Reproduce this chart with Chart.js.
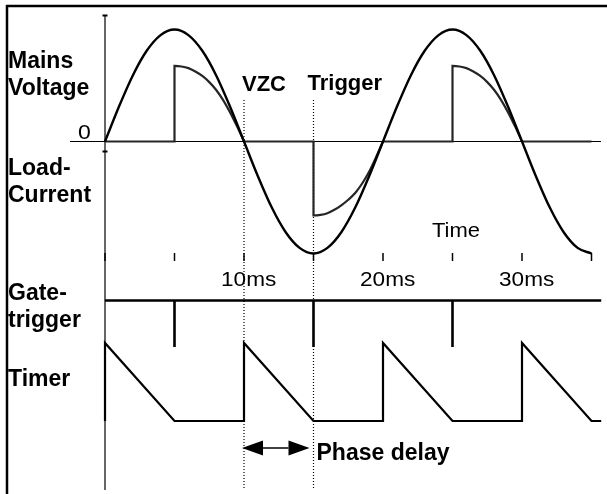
<!DOCTYPE html>
<html>
<head>
<meta charset="utf-8">
<title>Phase control timing</title>
<script src="https://cdn.jsdelivr.net/npm/chart.js@4.4.1/dist/chart.umd.min.js"></script>
<style>
  html, body { margin: 0; padding: 0; background: #fff; }
  #chart { display: block; }
</style>
</head>
<body>
<canvas id="chart" width="607" height="494"></canvas>
<script>
// --- data (time in ms, signals normalised) ---
const sineTimes = [0, 1, 2, 3, 4, 5, 6, 7, 8, 9, 10, 11, 12, 13, 14, 15, 16, 17,
                   18, 19, 20, 21, 22, 23, 24, 25, 26, 27, 28, 29, 30, 31, 32, 33, 34, 35];
const mainsVoltage = [0, 0.31, 0.59, 0.81, 0.95, 1, 0.95, 0.81, 0.59, 0.31,
                      0, -0.31, -0.59, -0.81, -0.95, -1, -0.95, -0.81, -0.59, -0.31,
                      0, 0.31, 0.59, 0.81, 0.95, 1, 0.95, 0.81, 0.59, 0.31,
                      0, -0.31, -0.59, -0.81, -0.95, -1];

// null = break between segments
const currentTimes = [0, 5, 5, 5.5, 6, 6.5, 7, 7.5, 8, 8.5, 9, 9.5, 10, 10,
                      10, 15, 15, 15.5, 16, 16.5, 17, 17.5, 18, 18.5, 19, 19.5, 20, 20,
                      20, 25, 25, 25.5, 26, 26.5, 27, 27.5, 28, 28.5, 29, 29.5, 30, 30,
                      30, 35];
const loadCurrent = [0, 0, 0.675, 0.67, 0.655, 0.625, 0.585, 0.53, 0.46, 0.37, 0.26, 0.135, 0, null,
                     0, 0, -0.66, -0.655, -0.64, -0.61, -0.57, -0.52, -0.46, -0.375, -0.27, -0.14, 0, null,
                     0, 0, 0.675, 0.67, 0.655, 0.625, 0.585, 0.53, 0.46, 0.37, 0.26, 0.135, 0, null,
                     0, 0];

const gateTimes = [0, 5, 5, 5, 15, 15, 15, 25, 25, 25, 35.7];
const gateTrigger = [0, 0, -1, 0, 0, -1, 0, 0, -1, 0, 0];

const timerTimes = [0, 0, 5, 10, 10, 15, 20, 20, 25, 30, 30, 35, 35.7];
const timerRamp = [0, 1, 0, 0, 1, 0, 0, 1, 0, 0, 1, 0, 0];

const tickTimes = [0, 5, 10, 15, 20, 25, 30, 35];
const labelTimes = [10, 20, 30];
const tickLabels = ['10ms', '20ms', '30ms'];
const markerTimes = [10, 15];
const markerLabels = ['VZC', 'Trigger'];

const toPoints = (xs, ys) => xs.map((t, i) => ({ x: t, y: ys[i] }));

const BOLD = 'bold 23px "Liberation Sans", Arial, sans-serif';
const BOLD_S = 'bold 22px "Liberation Sans", Arial, sans-serif';
const REG = '20px "Liberation Sans", Arial, sans-serif';

function drawText(ctx, str, x, y, font, sx) {
    ctx.save();
    ctx.font = font;
    ctx.fillStyle = '#000';
    ctx.textBaseline = 'alphabetic';
    ctx.translate(x, y);
    ctx.scale(sx || 1, 1);
    ctx.fillText(str, 0, 0);
    ctx.restore();
}

function seg(ctx, x1, y1, x2, y2) {
    ctx.beginPath();
    ctx.moveTo(x1, y1);
    ctx.lineTo(x2, y2);
    ctx.stroke();
}

const diagramDecor = {
    id: 'diagramDecor',
    beforeDatasetsDraw(chart) {
        const { ctx, scales: { x, yV } } = chart;
        const x0 = x.getPixelForValue(0);
        const y0 = yV.getPixelForValue(0);
        ctx.save();
        ctx.strokeStyle = '#000';

        // frame, top and left only
        ctx.lineWidth = 2.5;
        seg(ctx, 6, 6, 607, 6);
        seg(ctx, 7, 5, 7, 494);

        // vertical axis + small marks
        ctx.lineWidth = 1.2;
        seg(ctx, x0, 15, x0, 490);
        ctx.lineWidth = 2;
        seg(ctx, x0 - 2.5, 15.5, x0 + 2.5, 15.5);
        seg(ctx, x0 - 2.5, 151.5, x0 + 2.5, 151.5);

        // zero line
        ctx.lineWidth = 1.2;
        seg(ctx, 70, y0, 601, y0);

        // time ticks
        ctx.lineWidth = 1.5;
        tickTimes.forEach(t => {
            const px = x.getPixelForValue(t);
            seg(ctx, px, 253, px, 261);
        });

        // dotted markers
        ctx.lineWidth = 1.2;
        ctx.setLineDash([1, 2]);
        markerTimes.forEach(t => {
            const px = x.getPixelForValue(t);
            seg(ctx, px, 100, px, 490);
        });
        ctx.restore();
    },
    afterDatasetsDraw(chart) {
        const { ctx, scales: { x } } = chart;
        ctx.save();

        // left side labels
        drawText(ctx, 'Mains', 8, 68, BOLD);
        drawText(ctx, 'Voltage', 8, 95, BOLD);
        drawText(ctx, '0', 78, 139, REG, 1.15);
        drawText(ctx, 'Load-', 8, 175, BOLD);
        drawText(ctx, 'Current', 8, 202, BOLD);
        drawText(ctx, 'Gate-', 8, 300, BOLD);
        drawText(ctx, 'trigger', 8, 327, BOLD);
        drawText(ctx, 'Timer', 8, 386, BOLD);

        // markers
        drawText(ctx, markerLabels[0], x.getPixelForValue(markerTimes[0]) - 2, 91, BOLD_S);
        drawText(ctx, markerLabels[1], x.getPixelForValue(markerTimes[1]) - 6, 90, BOLD_S);

        // time axis labels
        drawText(ctx, 'Time', 432, 237, REG, 1.1);
        tickLabels.forEach((lab, i) => {
            const px = x.getPixelForValue(labelTimes[i]);
            drawText(ctx, lab, px - 23, 286, REG, 1.13);
        });

        // phase delay arrow
        const ax1 = x.getPixelForValue(markerTimes[0]) - 2;
        const ax2 = x.getPixelForValue(markerTimes[1]) - 4;
        const ay = 448;
        const head = 21, half = 7.5;
        ctx.fillStyle = '#000';
        ctx.strokeStyle = '#000';
        ctx.lineWidth = 1.5;
        seg(ctx, ax1 + head, ay, ax2 - head, ay);
        ctx.beginPath();
        ctx.moveTo(ax1, ay);
        ctx.lineTo(ax1 + head, ay - half);
        ctx.lineTo(ax1 + head, ay + half);
        ctx.closePath();
        ctx.fill();
        ctx.beginPath();
        ctx.moveTo(ax2, ay);
        ctx.lineTo(ax2 - head, ay - half);
        ctx.lineTo(ax2 - head, ay + half);
        ctx.closePath();
        ctx.fill();
        drawText(ctx, 'Phase delay', ax2 + 7, 460, BOLD);

        ctx.restore();
    }
};

const ctx = document.getElementById('chart').getContext('2d');
new Chart(ctx, {
    type: 'line',
    data: {
        datasets: [
            {
                label: 'Mains voltage',
                data: toPoints(sineTimes, mainsVoltage),
                yAxisID: 'yV',
                borderColor: '#000',
                borderWidth: 2.4,
                pointRadius: 0,
                cubicInterpolationMode: 'monotone'
            },
            {
                label: 'Load current',
                data: toPoints(currentTimes, loadCurrent),
                yAxisID: 'yV',
                borderColor: '#262626',
                borderWidth: 2.2,
                pointRadius: 0,
                spanGaps: false,
                cubicInterpolationMode: 'monotone'
            },
            {
                label: 'Gate trigger',
                data: toPoints(gateTimes, gateTrigger),
                yAxisID: 'yG',
                borderColor: '#000',
                borderWidth: 2.6,
                pointRadius: 0,
                tension: 0
            },
            {
                label: 'Timer',
                data: toPoints(timerTimes, timerRamp),
                yAxisID: 'yT',
                borderColor: '#000',
                borderWidth: 2.2,
                pointRadius: 0,
                tension: 0
            }
        ]
    },
    options: {
        responsive: false,
        animation: false,
        devicePixelRatio: 1,
        events: [],
        layout: { padding: 0 },
        plugins: {
            legend: { display: false },
            tooltip: { enabled: false }
        },
        scales: {
            x: { type: 'linear', display: false, min: -7.554, max: 36.115 },
            yV: { type: 'linear', display: false, min: -3.1473, max: 1.2634 },
            yG: { type: 'linear', display: false, min: -4.1613, max: 6.4624 },
            yT: { type: 'linear', display: false, min: -0.9359, max: 5.3974 }
        }
    },
    plugins: [diagramDecor]
});
</script>
</body>
</html>
